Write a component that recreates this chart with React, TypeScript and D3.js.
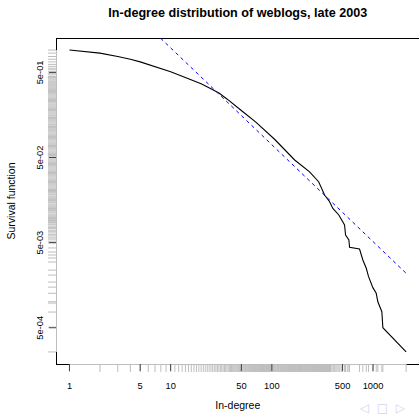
import React, { useEffect, useRef } from 'react';
import * as d3 from 'd3';

const title = 'In-degree distribution of weblogs, late 2003';
const xLabel = 'In-degree';
const yLabel = 'Survival function';

// vertices of the empirical survival curve (degree, fraction of blogs at or above it)
const curveDegree = [
  1, 2, 3, 4, 5, 10, 15, 20, 25, 30, 36, 51, 69, 107, 168, 236, 290, 332, 372, 401,
  459, 523, 535, 577, 586, 735, 793, 857, 903, 996, 1075, 1115, 1222, 1250, 2123,
];
const curveSurvival = [
  0.915, 0.843, 0.769, 0.713, 0.665, 0.509, 0.421, 0.367, 0.321, 0.286, 0.244, 0.175,
  0.131, 0.0814, 0.0468, 0.034, 0.026, 0.0181, 0.0151, 0.0126, 0.01056, 0.00806,
  0.00615, 0.00537, 0.00441, 0.00421, 0.00313, 0.0025, 0.00199, 0.00148, 0.00127,
  0.00101, 0.000771, 0.0005, 0.00026,
];

// fitted power law: log10 S = intercept + exponent * log10 d
const fitIntercept = 1.125;
const fitExponent = -1.138;

// observed distinct in-degrees (rug on the x axis)
const rugDegree = [
  1, 2, 3, 4, 5, 6, 7, 8, 9, 10, 11, 12, 13, 14, 15, 16, 17, 18, 19, 20,
  21, 22, 23, 24, 25, 26, 27, 28, 29, 30, 31, 32, 33, 34, 35, 36, 37, 38, 39, 40,
  41, 42, 43, 44, 45, 46, 47, 48, 49, 50, 51, 52, 53, 54, 55, 56, 57, 58, 59, 60,
  61, 62, 63, 64, 65, 66, 67, 68, 69, 70, 71, 72, 73, 74, 75, 76, 77, 78, 79, 80,
  81, 82, 83, 84, 85, 86, 87, 88, 89, 90, 91, 92, 93, 94, 95, 96, 97, 98, 99, 100,
  102, 104, 106, 108, 110, 112, 114, 116, 118, 120, 122, 124, 126, 128, 130, 132, 134,
  136, 138, 140, 142, 144, 146, 148, 150, 152, 154, 156, 158, 160, 162, 164, 166, 168,
  170, 172, 174, 176, 178, 180, 182, 184, 186, 188, 190, 192, 194, 196, 198, 200,
  203, 206, 209, 212, 215, 218, 221, 224, 227, 230, 233, 236, 239, 242, 245, 248, 251,
  254, 257, 260, 263, 266, 269, 272, 275, 278, 281, 284, 287, 290, 293, 296, 299, 302,
  305, 308, 311, 314, 317, 320, 323, 326, 329, 332, 335, 338, 341, 344, 347, 350, 353,
  356, 359, 362, 365, 368, 371, 380, 386, 401, 410, 418, 430, 441, 459, 470, 486, 500,
  523, 535, 556, 577, 586, 735, 793, 857, 903, 996, 1075, 1115, 1222, 1250, 2123,
];

// observed survival values (rug on the y axis)
const rugSurvival = [
  0.915, 0.843, 0.769, 0.713, 0.665, 0.621, 0.589, 0.56, 0.537, 0.509, 0.488, 0.468,
  0.448, 0.434, 0.421, 0.408, 0.396, 0.386, 0.376, 0.367, 0.357, 0.348, 0.338, 0.329,
  0.321, 0.313, 0.306, 0.299, 0.292, 0.286, 0.28, 0.272, 0.264, 0.256, 0.248, 0.241,
  0.234, 0.227, 0.22, 0.213, 0.207, 0.201, 0.195, 0.189, 0.183, 0.178, 0.172, 0.167,
  0.162, 0.157, 0.153, 0.148, 0.144, 0.139, 0.135, 0.131, 0.127, 0.123, 0.12, 0.116,
  0.113, 0.109, 0.106, 0.103, 0.1, 0.097, 0.094, 0.0912, 0.0885, 0.0858, 0.0833,
  0.0808, 0.0783, 0.076, 0.0737, 0.0715, 0.0693, 0.0673, 0.0652, 0.0633, 0.0614,
  0.0595, 0.0577, 0.056, 0.0543, 0.0527, 0.0511, 0.0496, 0.0481, 0.0467, 0.0453,
  0.0439, 0.0426, 0.0413, 0.0401, 0.0389, 0.0377, 0.0366, 0.0355, 0.0344, 0.0334,
  0.0324, 0.0314, 0.0305, 0.0296, 0.0287, 0.0278, 0.027, 0.0262, 0.0254, 0.0246,
  0.0239, 0.0232, 0.0225, 0.0218, 0.0211, 0.0205, 0.0199, 0.0193, 0.0187, 0.0182,
  0.0176, 0.0171, 0.0166, 0.0161, 0.0156, 0.0151, 0.0147, 0.0142, 0.0138, 0.0134,
  0.013, 0.0126, 0.0122, 0.0119, 0.0115, 0.0112, 0.0108, 0.0105, 0.0102, 0.0099,
  0.0096, 0.0093, 0.0091, 0.0088, 0.0086, 0.0083, 0.0081, 0.0078, 0.0075, 0.0073,
  0.007, 0.0068, 0.0065, 0.0062, 0.006, 0.0057, 0.0055, 0.0052, 0.00496, 0.00433,
  0.00388, 0.00358, 0.0033, 0.00296, 0.00238, 0.00208, 0.00172, 0.0015, 0.00127,
  0.00101, 0.000975, 0.000765, 0.000509, 0.00026,
];

const xTicks = [1, 5, 10, 50, 100, 500, 1000];
const yTicks = [0.5, 0.05, 0.005, 0.0005];
const yTickLabels = ['5e-01', '5e-02', '5e-03', '5e-04'];

const W = 419;
const H = 414;
const FONT = '"Liberation Sans", Arial, Helvetica, sans-serif';

const Chart = () => {
  const ref = useRef(null);

  useEffect(() => {
    const left = 56;
    const top = 38;
    const plotW = 363.6;
    const plotH = 326;
    const right = left + plotW;
    const bottom = top + plotH;

    // R-style 4% padding in log space
    const padLog = (vals: number[]) => {
      const [a, b] = d3.extent(vals) as [number, number];
      const la = Math.log10(a);
      const lb = Math.log10(b);
      const p = 0.04 * (lb - la);
      return [Math.pow(10, la - p), Math.pow(10, lb + p)];
    };

    const x = d3.scaleLog().domain(padLog(curveDegree)).range([left, right]);
    const y = d3.scaleLog().domain(padLog(curveSurvival)).range([bottom, top]);

    const svg = d3.select(ref.current);
    svg.selectAll('*').remove();

    svg
      .append('defs')
      .append('clipPath')
      .attr('id', 'plot-clip')
      .append('rect')
      .attr('x', left)
      .attr('y', top)
      .attr('width', plotW)
      .attr('height', plotH);

    // box
    svg
      .append('rect')
      .attr('x', left)
      .attr('y', top)
      .attr('width', plotW)
      .attr('height', plotH)
      .attr('fill', 'none')
      .attr('stroke', '#000')
      .attr('stroke-width', 1)
      .attr('shape-rendering', 'crispEdges');

    const rugColor = '#bebebe';

    // x rug
    const gxr = svg.append('g');
    gxr
      .append('line')
      .attr('x1', x(d3.min(rugDegree)))
      .attr('x2', x(d3.max(rugDegree)))
      .attr('y1', bottom)
      .attr('y2', bottom)
      .attr('stroke', rugColor)
      .attr('shape-rendering', 'crispEdges');
    gxr
      .selectAll('line.r')
      .data(rugDegree)
      .join('line')
      .attr('class', 'r')
      .attr('x1', (d) => x(d))
      .attr('x2', (d) => x(d))
      .attr('y1', bottom)
      .attr('y2', bottom + 8)
      .attr('stroke', rugColor)
      .attr('stroke-width', 1);

    // y rug
    const gyr = svg.append('g');
    gyr
      .append('line')
      .attr('x1', left)
      .attr('x2', left)
      .attr('y1', y(d3.max(rugSurvival)))
      .attr('y2', y(d3.min(rugSurvival)))
      .attr('stroke', rugColor)
      .attr('shape-rendering', 'crispEdges');
    gyr
      .selectAll('line.r')
      .data(rugSurvival)
      .join('line')
      .attr('class', 'r')
      .attr('x1', left - 8)
      .attr('x2', left)
      .attr('y1', (d) => y(d))
      .attr('y2', (d) => y(d))
      .attr('stroke', rugColor)
      .attr('stroke-width', 1);

    // axis ticks + labels
    const gx = svg.append('g');
    gx.selectAll('line')
      .data(xTicks)
      .join('line')
      .attr('x1', (d) => x(d))
      .attr('x2', (d) => x(d))
      .attr('y1', bottom)
      .attr('y2', bottom + 7)
      .attr('stroke', '#444');
    gx.selectAll('text')
      .data(xTicks)
      .join('text')
      .attr('x', (d) => x(d))
      .attr('y', 388.5)
      .attr('text-anchor', 'middle')
      .attr('font-family', FONT)
      .attr('font-size', 9.3)
      .text((d) => String(d));

    const gy = svg.append('g');
    gy.selectAll('line')
      .data(yTicks)
      .join('line')
      .attr('x1', left - 7)
      .attr('x2', left)
      .attr('y1', (d) => y(d))
      .attr('y2', (d) => y(d))
      .attr('stroke', '#444');
    gy.selectAll('text')
      .data(yTicks)
      .join('text')
      .attr('transform', (d) => `translate(42.5,${y(d)}) rotate(-90)`)
      .attr('text-anchor', 'middle')
      .attr('font-family', FONT)
      .attr('font-size', 9.3)
      .text((d, i) => yTickLabels[i]);

    // survival curve
    const pts = curveDegree.map((d, i) => [d, curveSurvival[i]]);
    const line = d3
      .line()
      .x((d) => x(d[0]))
      .y((d) => y(d[1]));
    svg
      .append('path')
      .datum(pts)
      .attr('d', line)
      .attr('fill', 'none')
      .attr('stroke', '#000')
      .attr('stroke-width', 1.1)
      .attr('clip-path', 'url(#plot-clip)');

    // fitted power law
    const dmin = d3.min(curveDegree);
    const dmax = d3.max(curveDegree);
    const fit = [dmin, dmax].map((d) => [d, Math.pow(10, fitIntercept + fitExponent * Math.log10(d))]);
    svg
      .append('path')
      .datum(fit)
      .attr('d', line)
      .attr('fill', 'none')
      .attr('stroke', '#0000ff')
      .attr('stroke-width', 1)
      .attr('stroke-dasharray', '3.5,3.5')
      .attr('clip-path', 'url(#plot-clip)');

    // titles
    svg
      .append('text')
      .attr('x', (left + right) / 2)
      .attr('y', 17.3)
      .attr('text-anchor', 'middle')
      .attr('font-family', FONT)
      .attr('font-weight', 'bold')
      .attr('font-size', 12.6)
      .text(title);
    svg
      .append('text')
      .attr('x', (left + right) / 2)
      .attr('y', 409)
      .attr('text-anchor', 'middle')
      .attr('font-family', FONT)
      .attr('font-size', 10.5)
      .text(xLabel);
    svg
      .append('text')
      .attr('transform', `translate(15,${(top + bottom) / 2}) rotate(-90)`)
      .attr('text-anchor', 'middle')
      .attr('font-family', FONT)
      .attr('font-size', 10.5)
      .text(yLabel);

    // faint slide navigation symbols
    svg
      .append('text')
      .attr('x', 360)
      .attr('y', 412)
      .attr('font-family', '"DejaVu Sans", sans-serif')
      .attr('font-size', 12)
      .attr('fill', '#d4d4ee')
      .attr('xml:space', 'preserve')
      .text('◁  □  ▷');
  }, []);

  return (
    <svg
      ref={ref}
      width={W}
      height={H}
      style={{ position: 'absolute', left: 0, top: 0, background: '#fff' }}
    />
  );
};

export default function App() {
  return <Chart />;
}
